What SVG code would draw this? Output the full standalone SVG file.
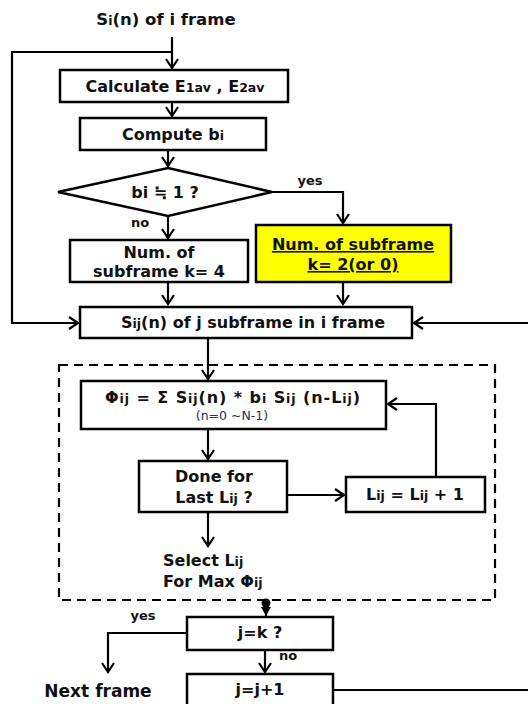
<svg xmlns="http://www.w3.org/2000/svg" width="528" height="704" viewBox="0 0 528 704">
<style>
.box{fill:#fff;stroke:#000;stroke-width:2.5}
.t{font-family:"DejaVu Sans","Noto Sans",sans-serif;font-weight:bold;font-size:16px;fill:#111;text-anchor:middle}
.s{font-size:12.5px}
.lab{font-size:13px}
.st{text-anchor:start}
.ln{fill:none;stroke:#000;stroke-width:2.2}
</style>
<defs>
<marker id="a" markerWidth="14" markerHeight="14" refX="11" refY="7" orient="auto" markerUnits="userSpaceOnUse">
<path d="M2,1 L11,7 L2,13" fill="none" stroke="#000" stroke-width="2.2"/>
</marker>
<marker id="f" markerWidth="12" markerHeight="12" refX="10" refY="6" orient="auto" markerUnits="userSpaceOnUse">
<path d="M1,1 L10,6 L1,11 Z" fill="#000"/>
</marker>
</defs>
<g id="connectors">
<path class="ln" d="M172,37 V68" marker-end="url(#a)"/>
<path class="ln" d="M172,52 H12 V323 H78" marker-end="url(#a)"/>
<path class="ln" d="M172,102 V116" marker-end="url(#a)"/>
<path class="ln" d="M168,150 V166" marker-end="url(#a)"/>
<path class="ln" d="M272,192 H343 V223" marker-end="url(#a)"/>
<path class="ln" d="M168,216 V238" marker-end="url(#a)"/>
<path class="ln" d="M168,282 V304" marker-end="url(#a)"/>
<path class="ln" d="M343,282 V304" marker-end="url(#a)"/>
<path class="ln" d="M528,323 H414" marker-end="url(#a)"/>
<path class="ln" d="M208,338 V379" marker-end="url(#a)"/>
<path class="ln" d="M208,429 V459" marker-end="url(#a)"/>
<path class="ln" d="M287,495 H344" marker-end="url(#a)"/>
<path class="ln" d="M436,477 V404 H388" marker-end="url(#a)"/>
<path class="ln" d="M208,512 V546" marker-end="url(#a)"/>
<circle cx="266" cy="603" r="4.5" fill="#000"/>
<path class="ln" d="M266,603 V616" marker-end="url(#f)"/>
<path class="ln" d="M187,633 H108 V672" marker-end="url(#a)"/>
<path class="ln" d="M265,650 V672" marker-end="url(#a)"/>
<path class="ln" d="M333,690 H528"/>
<rect x="59" y="365" width="436" height="235" fill="none" stroke="#000" stroke-width="2.2" stroke-dasharray="9,6"/>
</g>
<g id="start"><text class="t" x="166" y="25" style="font-size:16.5px">S<tspan class="s">i</tspan>(n) of i frame</text></g>
<g id="calc"><rect class="box" x="60" y="70" width="228" height="32"/><text class="t" x="175" y="92">Calculate E<tspan class="s">1av</tspan> , E<tspan class="s">2av</tspan></text></g>
<g id="compute"><rect class="box" x="80" y="118" width="186" height="32"/><text class="t" x="173" y="140">Compute  b<tspan class="s">i</tspan></text></g>
<g id="decision"><polygon class="box" points="168,168 272,192 168,216 58,192"/><text class="t" x="165" y="198">bi ≒ 1 ?</text></g>
<text class="t lab" x="310" y="185">yes</text>
<text class="t lab" x="140" y="227">no</text>
<g id="k4"><rect class="box" x="70" y="240" width="178" height="42"/><text class="t" x="159" y="258">Num. of</text><text class="t" x="159" y="277">subframe  k= 4</text></g>
<g id="k2"><rect x="256" y="225" width="195" height="57" fill="#ffff00" stroke="#000" stroke-width="2.5"/><text class="t" x="353" y="250" text-decoration="underline">Num. of subframe</text><text class="t" x="353" y="270" text-decoration="underline">k= 2(or 0)</text></g>
<g id="sij"><rect class="box" x="80" y="307" width="332" height="31"/><text class="t" x="253" y="328">S<tspan class="s">ij</tspan>(n)  of j subframe in i frame</text></g>
<g id="phi"><rect class="box" x="81" y="381" width="305" height="48"/><text class="t" x="105" y="403" style="text-anchor:start" textLength="255" lengthAdjust="spacing">Φ<tspan class="s">ij</tspan> = Σ S<tspan class="s">ij</tspan>(n)  *  b<tspan class="s">i</tspan> S<tspan class="s">ij</tspan> (n-L<tspan class="s">ij</tspan>)</text><text x="232" y="420" font-family="'DejaVu Sans','Noto Sans',sans-serif" font-size="12.5" fill="#2a2a66" text-anchor="middle">(n=0 ~N-1)</text></g>
<g id="done"><rect class="box" x="139" y="461" width="148" height="51"/><text class="t" x="214" y="482">Done for</text><text class="t" x="214" y="503">Last L<tspan class="s">ij</tspan> ?</text></g>
<g id="inc"><rect class="box" x="346" y="477" width="139" height="35"/><text class="t" x="415" y="500">L<tspan class="s">ij</tspan>  =  L<tspan class="s">ij</tspan>  +  1</text></g>
<g id="select"><text class="t st" x="163" y="566">Select L<tspan class="s">ij</tspan></text><text class="t st" x="163" y="587">For Max Φ<tspan class="s">ij</tspan></text></g>
<g id="jk"><rect class="box" x="187" y="617" width="146" height="33"/><text class="t" x="260" y="638">j=k ?</text></g>
<text class="t lab" x="143" y="620">yes</text>
<text class="t lab" x="288" y="660">no</text>
<g id="next"><text class="t" x="98" y="697" style="font-size:17px">Next frame</text></g>
<g id="jinc"><rect class="box" x="187" y="674" width="146" height="40"/><text class="t" x="260" y="695">j=j+1</text></g>
</svg>
